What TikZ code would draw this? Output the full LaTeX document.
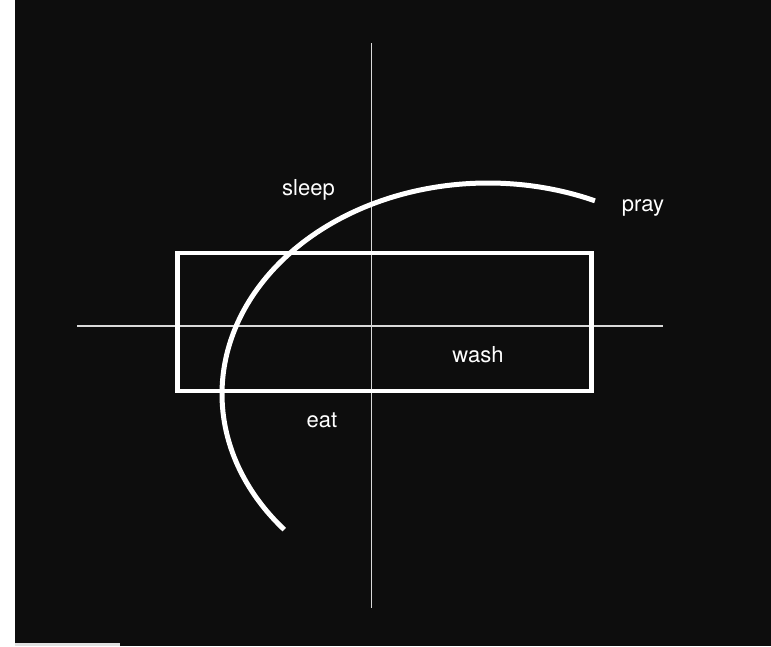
\documentclass[tikz,border=0pt]{standalone}
\usepackage{fontspec}
\setmainfont{TeX Gyre Heros}
\begin{document}
\begin{tikzpicture}[x=1pt,y=-1pt,
  axis/.style={draw=white!85!black,line width=1.3pt},
  boxline/.style={draw=white,line width=4.6pt},
  arcline/.style={draw=white,line width=5pt,line cap=butt},
  lbl/.style={text=white,font=\fontsize{22}{26}\selectfont,anchor=base,inner sep=0pt}]
\useasboundingbox (0,0) rectangle (771,646);
\fill[white] (0,0) rectangle (771,646);
\fill[black!95!white] (15,0) rectangle (771,646);
\fill[white!88!black] (15,643) rectangle (120,646);
% axes
\coordinate (vt) at (371.5,43);
\coordinate (vb) at (371.5,608);
\coordinate (hl) at (77,326);
\coordinate (hr) at (663,326);
\draw[axis] (vt) -- (vb);
\draw[axis] (hl) -- (hr);
% rectangle
\node[boxline,minimum width=414pt,minimum height=138pt,inner sep=0pt] (box) at (384.5,322) {};
% arc
\draw[arcline] plot[domain=140:293.7,samples=150,smooth] ({488+266*cos(\x)},{394+211*sin(\x)});
% labels
\node[lbl] (sleep) at (308.5,195) {sleep};
\node[lbl] (pray) at (643,211.5) {pray};
\node[lbl] (wash) at (478,362.5) {wash};
\node[lbl] (eat) at (322,427) {eat};
\end{tikzpicture}
\end{document}
